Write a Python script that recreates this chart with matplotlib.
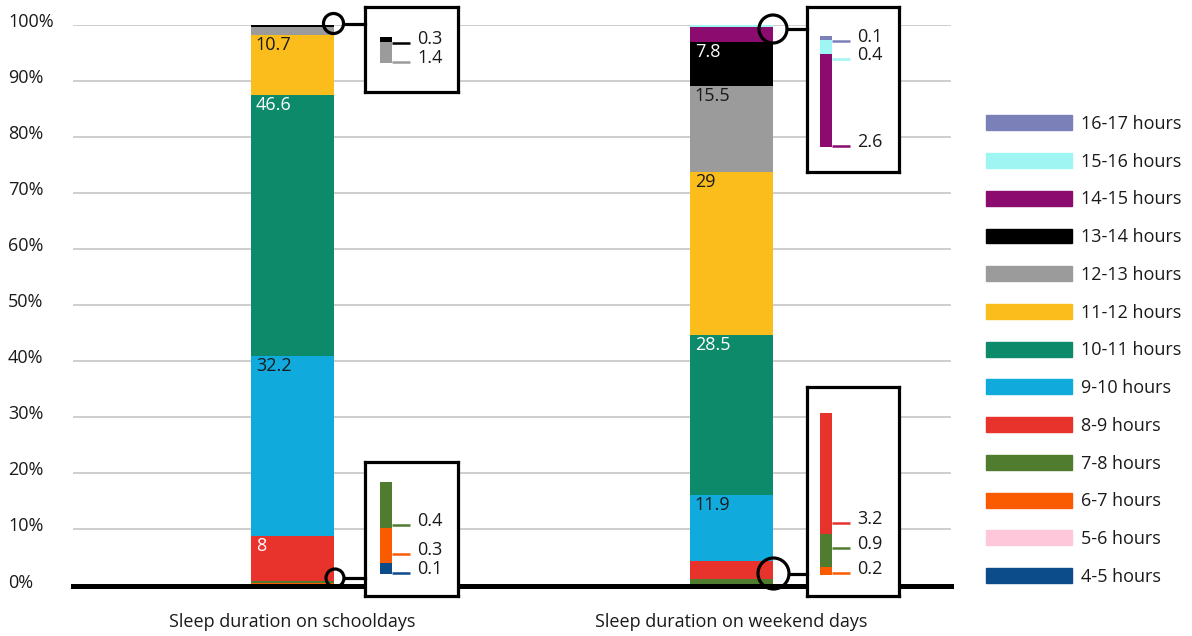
import matplotlib
matplotlib.use('Agg')
import matplotlib.pyplot as plt
import numpy as np
from matplotlib.patches import Patch, Circle
from matplotlib.transforms import ScaledTranslation

plt.rcParams['font.family'] = ['Open Sans', 'DejaVu Sans']
plt.rcParams['font.size'] = 13

# data
categories = ['4-5 hours', '5-6 hours', '6-7 hours', '7-8 hours', '8-9 hours',
              '9-10 hours', '10-11 hours', '11-12 hours', '12-13 hours',
              '13-14 hours', '14-15 hours', '15-16 hours', '16-17 hours']
groups = ['Sleep duration on schooldays', 'Sleep duration on weekend days']
schooldays = [0.1, 0, 0.3, 0.4, 8, 32.2, 46.6, 10.7, 1.4, 0.3, 0, 0, 0]
weekend = [0, 0, 0.2, 0.9, 3.2, 11.9, 28.5, 29, 15.5, 7.8, 2.6, 0.4, 0.1]
colors = ['#0c4c8a', '#fec8da', '#fa5a00', '#507c2f', '#e8332d', '#10aadc',
          '#0d8a6a', '#fabd1c', '#9b9b9b', '#000000', '#8b0b6e', '#9ef5f2',
          '#7c80b8']
yticks = np.arange(0, 101, 10)
series = np.array([schooldays, weekend])

W, H = 1192, 636
fig = plt.figure(figsize=(W / 100, H / 100), dpi=100)

def px_rect(x0, y0, x1, y1):
    # pixel box (top-left origin) -> figure fraction rect
    return [x0 / W, 1 - y1 / H, (x1 - x0) / W, (y1 - y0) / H]

ax = fig.add_axes(px_rect(73, 25, 951, 585.5))
x = np.arange(len(groups))
bw = 0.19
txt = '#1a1a1a'

bottoms = np.zeros(len(groups))
for i, cat in enumerate(categories):
    vals = series[:, i]
    ax.bar(x, vals, bottom=bottoms, width=bw, color=colors[i], zorder=2)
    r, g, b = [int(colors[i][k:k + 2], 16) for k in (1, 3, 5)]
    lum = 0.299 * r + 0.587 * g + 0.114 * b
    for j in range(len(groups)):
        if vals[j] >= 5:
            ax.annotate(f'{vals[j]:g}', xy=(x[j] - bw / 2, bottoms[j] + vals[j]),
                        xytext=(5, -1), textcoords='offset pixels',
                        ha='left', va='top', fontsize=13,
                        color='white' if lum < 120 else txt, zorder=3)
    bottoms = bottoms + vals

ax.set_xlim(-0.5, 1.5)
ax.set_ylim(0, 100)
ax.set_yticks(yticks)
ax.set_yticklabels([f'{t}%' for t in yticks])
ax.set_xticks(x)
ax.set_xticklabels(groups)
ax.tick_params(axis='y', length=0, pad=46.8, labelcolor=txt)
ax.tick_params(axis='x', length=0, pad=20, labelcolor=txt)
for t in ax.yaxis.get_major_ticks():
    t.label1.set_horizontalalignment('left')
    t.label1.set_transform(t.label1.get_transform() +
                           ScaledTranslation(0, 0.05, fig.dpi_scale_trans))
ax.yaxis.grid(True, color='#c6c6c6', lw=1.2, zorder=0)
ax.set_axisbelow(True)
for s in ax.spines.values():
    s.set_visible(False)
ax.axhline(0, color='black', lw=3.6, clip_on=False, zorder=4)

# zoom insets: (bar, categories, box, mini bar, leader y, circle)
insets = [
    dict(bar=0, cats=[8, 9], box=(365, 7, 458, 92), mini=(380, 37, 392, 63),
         lead=[62, 43], circ=(333.5, 23.5, 10)),
    dict(bar=0, cats=[0, 2, 3], box=(365, 462, 458, 596), mini=(380, 482, 392, 574),
         lead=[573, 554, 525], circ=(335, 578, 9)),
    dict(bar=1, cats=[10, 11, 12], box=(807, 7, 899, 172), mini=(820, 36, 832, 147),
         lead=[146, 59, 41], circ=(773, 29, 14)),
    dict(bar=1, cats=[2, 3, 4], box=(807, 387, 899, 596), mini=(820, 413, 832, 575),
         lead=[573, 548, 523], circ=(773.5, 573.5, 15.5)),
]

for ins in insets:
    bax = fig.add_axes(px_rect(*ins['box']))
    bax.set_facecolor('white')
    bax.set_xticks([])
    bax.set_yticks([])
    for s in bax.spines.values():
        s.set_linewidth(2.3)
        s.set_color('black')
    vals = [series[ins['bar'], c] for c in ins['cats']]
    max_ = fig.add_axes(px_rect(*ins['mini']))
    bot = 0
    for c, v in zip(ins['cats'], vals):
        max_.bar(0.5, v, bottom=bot, width=1, color=colors[c])
        bot += v
    max_.set_xlim(0, 1)
    max_.set_ylim(0, bot)
    max_.axis('off')

ov = fig.add_axes([0, 0, 1, 1])
ov.set_xlim(0, W)
ov.set_ylim(H, 0)
ov.axis('off')
ov.patch.set_alpha(0)
for ins in insets:
    mx1 = ins['mini'][2]
    for c, ly in zip(ins['cats'], ins['lead']):
        v = series[ins['bar'], c]
        ov.plot([mx1, mx1 + 18], [ly, ly], color=colors[c], lw=1.8,
                solid_capstyle='butt')
        ov.text(mx1 + 25, ly - 4, f'{v:g}', ha='left', va='center',
                fontsize=13, color=txt)
    cx, cy, r = ins['circ']
    ov.add_patch(Circle((cx, cy), r, fill=False, ec='black', lw=2.3))
    ov.plot([cx + r, ins['box'][0]], [cy, cy], color='black', lw=2.3)

handles = [Patch(color=colors[i], label=categories[i])
           for i in range(len(categories))][::-1]
fig.legend(handles=handles, loc='upper left',
           bbox_to_anchor=(986 / W, 1 - 115 / H), frameon=False,
           borderpad=0, borderaxespad=0, handlelength=4.76,
           handleheight=0.89, handletextpad=0.5, labelspacing=1.093,
           fontsize=13, labelcolor=txt)

fig.savefig('out.png', dpi=100)
